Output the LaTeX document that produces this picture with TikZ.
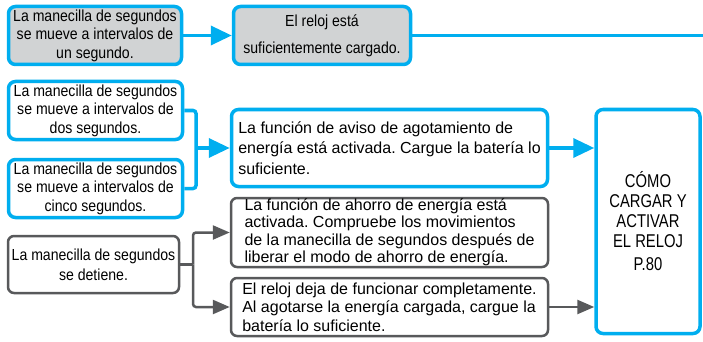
\documentclass[tikz,border=0pt]{standalone}
\usepackage{fontspec}
\setmainfont{Liberation Sans}
\newfontfamily\condA[FakeStretch=0.88]{Liberation Sans}
\newfontfamily\condF[FakeStretch=0.8]{Liberation Sans}
\usetikzlibrary{arrows.meta}
\definecolor{cyanb}{HTML}{00AEEF}
\definecolor{boxgray}{HTML}{D1D3D4}
\definecolor{darkg}{HTML}{58595B}
\frenchspacing
\tikzset{
  bluebox/.style={draw=cyanb, line width=3.5pt, rounded corners=7pt, inner sep=0pt},
  graybox/.style={draw=darkg, line width=2.5pt, rounded corners=6pt, inner sep=0pt},
  leftt/.style={font=\condA\fontsize{16}{18.5}\selectfont, align=center},
  rightt/.style={font=\fontsize{16}{20.5}\selectfont, align=left},
  blueline/.style={draw=cyanb, line width=3.5pt},
  bluearrow/.style={blueline, -{Triangle[length=21pt,width=19pt]}},
  grayline/.style={draw=darkg, line width=2.5pt},
  grayarrow/.style={grayline, -{Triangle[length=17pt,width=14pt]}}
}
\begin{document}
\begin{tikzpicture}[x=1pt,y=-1pt]
\useasboundingbox (0,0) rectangle (703,342);
\node[bluebox, fill=boxgray, leftt, minimum width=173pt, minimum height=58pt] (A) at (95,35.5)
  {La manecilla de segundos\\se mueve a intervalos de\\un segundo.};
\node[bluebox, fill=boxgray, font=\condA\fontsize{16}{27}\selectfont, align=center, minimum width=177pt, minimum height=58pt] (B) at (322,35.5)
  {El reloj está\\suficientemente cargado.};
\node[bluebox, fill=white, leftt, minimum width=174pt, minimum height=58pt] (C) at (95.5,110.5)
  {La manecilla de segundos\\se mueve a intervalos de\\dos segundos.};
\node[bluebox, fill=white, leftt, minimum width=174pt, minimum height=58pt] (D) at (95.5,188.5)
  {La manecilla de segundos\\se mueve a intervalos de\\cinco segundos.};
\node[bluebox, fill=white, rightt, minimum width=316pt, minimum height=77pt] (E) at (389.5,148)
  {La función de aviso de agotamiento de\\energía está activada. Cargue la batería lo\\suficiente.};
\node[bluebox, fill=white, font=\condF\fontsize{18.5}{20}\selectfont, align=center, minimum width=104pt, minimum height=224pt] (F) at (648,221.5)
  {CÓMO\\CARGAR Y\\ACTIVAR\\EL RELOJ\\[3pt]P.80};
\node[graybox, fill=white, font=\fontsize{16}{17.5}\selectfont, align=left, minimum width=317pt, minimum height=69pt] (G) at (389.5,232.5)
  {La función de ahorro de energía está\\activada. Compruebe los movimientos\\de la manecilla de segundos después de\\liberar el modo de ahorro de energía.};
\node[graybox, fill=white, font=\fontsize{16}{18.5}\selectfont, align=left, minimum width=317pt, minimum height=58pt] (H) at (389.5,307)
  {El reloj deja de funcionar completamente.\\Al agotarse la energía cargada, cargue la\\batería lo suficiente.};
\node[graybox, fill=white, font=\condA\fontsize{16}{20}\selectfont, align=center, minimum width=171pt, minimum height=57pt] (I) at (93.5,264.5)
  {La manecilla de segundos\\se detiene.};
\coordinate (j) at (196,0);
\coordinate (k) at (193,0);
\coordinate (edge) at (706,0);
\draw[bluearrow] (A.east) -- (B.west);
\draw[blueline] (B.east) -- (B.east -| edge);
\draw[blueline, rounded corners=3pt] (C.east) -- (C.east -| j) -- (D.east -| j) -- (D.east);
\draw[bluearrow] (j |- E.west) -- (E.west);
\draw[bluearrow] (E.east) -- (E.east -| F.west);
\draw[grayline] (I.east) -- (I.east -| k);
\draw[grayarrow, rounded corners=3pt] (I.east -| k) |- (G.west);
\draw[grayarrow, rounded corners=3pt] (I.east -| k) |- (H.west);
\draw[grayarrow] (H.east) -- (H.east -| F.west);
\end{tikzpicture}
\end{document}
